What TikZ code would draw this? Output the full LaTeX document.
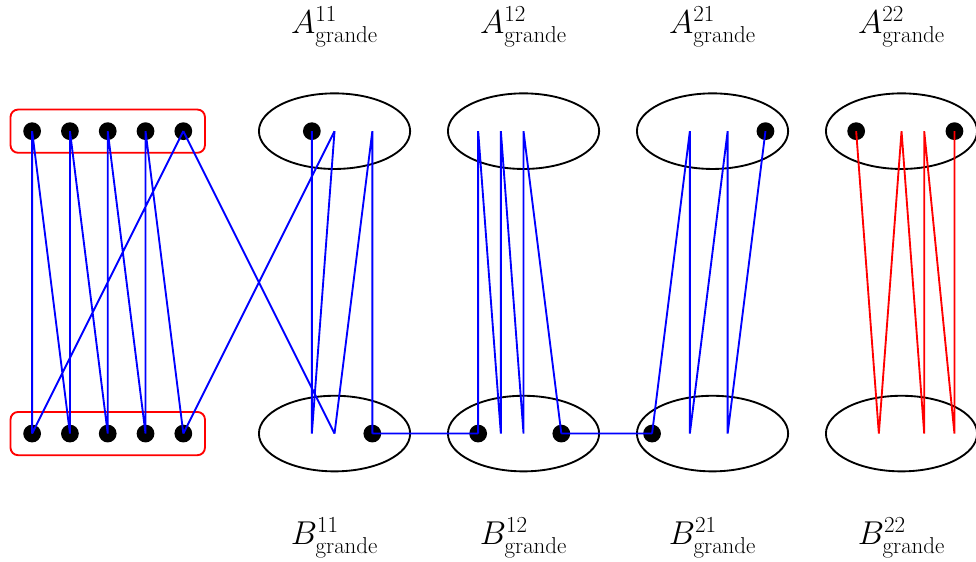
\documentclass[tikz,border=0pt]{standalone}
\usepackage{amsmath}
\usepackage{tikz}
\usetikzlibrary{fit, shapes.geometric}

\begin{document}
\begin{tikzpicture}[
    dot/.style={circle, fill=black, inner sep=0pt, minimum size=0.47cm},
    blob/.style={draw, ellipse, line width=1.4pt, minimum width=4cm, minimum height=2cm, inner sep=0pt},
    grp/.style={draw=red, rounded corners=0.2cm, line width=1.4pt, inner sep=0.33cm},
    link/.style={draw=blue, line width=1.4pt},
    rlink/.style={draw=red, line width=1.4pt},
    lab/.style={font=\fontsize{24}{29}\selectfont}
  ]
    \useasboundingbox (-0.85,-3.39) rectangle (24.97,11.47);
    % the four parts, top and bottom
    \node[blob] (ea1) at (8,8) {};
    \node[blob] (ea2) at (13,8) {};
    \node[blob] (ea3) at (18,8) {};
    \node[blob] (ea4) at (23,8) {};
    \node[blob] (eb1) at (8,0) {};
    \node[blob] (eb2) at (13,0) {};
    \node[blob] (eb3) at (18,0) {};
    \node[blob] (eb4) at (23,0) {};
    \node[lab] (la1) at (8,10.75) {$A^{11}_{\mathrm{grande}}$};
    \node[lab] (la2) at (13,10.75) {$A^{12}_{\mathrm{grande}}$};
    \node[lab] (la3) at (18,10.75) {$A^{21}_{\mathrm{grande}}$};
    \node[lab] (la4) at (23,10.75) {$A^{22}_{\mathrm{grande}}$};
    \node[lab] (lb1) at (8,-2.75) {$B^{11}_{\mathrm{grande}}$};
    \node[lab] (lb2) at (13,-2.75) {$B^{12}_{\mathrm{grande}}$};
    \node[lab] (lb3) at (18,-2.75) {$B^{21}_{\mathrm{grande}}$};
    \node[lab] (lb4) at (23,-2.75) {$B^{22}_{\mathrm{grande}}$};
    % left group
    \node[dot] (top0) at (0,8) {};
    \node[dot] (top1) at (1,8) {};
    \node[dot] (top2) at (2,8) {};
    \node[dot] (top3) at (3,8) {};
    \node[dot] (top4) at (4,8) {};
    \node[dot] (bot0) at (0,0) {};
    \node[dot] (bot1) at (1,0) {};
    \node[dot] (bot2) at (2,0) {};
    \node[dot] (bot3) at (3,0) {};
    \node[dot] (bot4) at (4,0) {};
    \node[grp, fit=(top0)(top4)] (gtop) {};
    \node[grp, fit=(bot0)(bot4)] (gbot) {};
    % points inside the parts
    \node[dot] (a1a) at (7.4,8) {};
    \coordinate (a1b) at (8,8);
    \coordinate (a1c) at (9,8);
    \coordinate (b1a) at (7.4,0);
    \coordinate (b1b) at (8,0);
    \node[dot] (b1c) at (9,0) {};
    \coordinate (a2a) at (11.8,8);
    \coordinate (a2b) at (12.4,8);
    \coordinate (a2c) at (13,8);
    \node[dot] (b2a) at (11.8,0) {};
    \coordinate (b2b) at (12.4,0);
    \coordinate (b2c) at (13,0);
    \node[dot] (b2d) at (14,0) {};
    \coordinate (a3a) at (17.4,8);
    \coordinate (a3b) at (18.4,8);
    \node[dot] (a3c) at (19.4,8) {};
    \node[dot] (b3a) at (16.4,0) {};
    \coordinate (b3b) at (17.4,0);
    \coordinate (b3c) at (18.4,0);
    \node[dot] (a4a) at (21.8,8) {};
    \coordinate (a4b) at (23,8);
    \coordinate (a4c) at (23.6,8);
    \node[dot] (a4d) at (24.4,8) {};
    \coordinate (b4a) at (22.4,0);
    \coordinate (b4b) at (23.6,0);
    \coordinate (b4c) at (24.4,0);
    % blue links
    \path[link] (top0.center) -- (bot0.center)
      (top0.center) -- (bot1.center)
      (top1.center) -- (bot1.center)
      (top1.center) -- (bot2.center)
      (top2.center) -- (bot2.center)
      (top2.center) -- (bot3.center)
      (top3.center) -- (bot3.center)
      (top3.center) -- (bot4.center)
      (top4.center) -- (bot0.center)
      (top4.center) -- (b1b)
      (bot4.center) -- (a1b);
    \path[link] (a1a.center) -- (b1a)
      (a1b) -- (b1a)
      (a1c) -- (b1b)
      (a1c) -- (b1c.center)
      (b1c.center) -- (b2a.center);
    \path[link] (a2a) -- (b2a.center)
      (a2a) -- (b2b)
      (a2b) -- (b2b)
      (a2b) -- (b2c)
      (a2c) -- (b2c)
      (a2c) -- (b2d.center)
      (b2d.center) -- (b3a.center);
    \path[link] (a3a) -- (b3a.center)
      (a3a) -- (b3b)
      (a3b) -- (b3b)
      (a3b) -- (b3c)
      (a3c.center) -- (b3c);
    % red links
    \path[rlink] (a4a.center) -- (b4a)
      (a4b) -- (b4a)
      (a4b) -- (b4b)
      (a4c) -- (b4b)
      (a4c) -- (b4c)
      (a4d.center) -- (b4c);
  \end{tikzpicture}
\end{document}
